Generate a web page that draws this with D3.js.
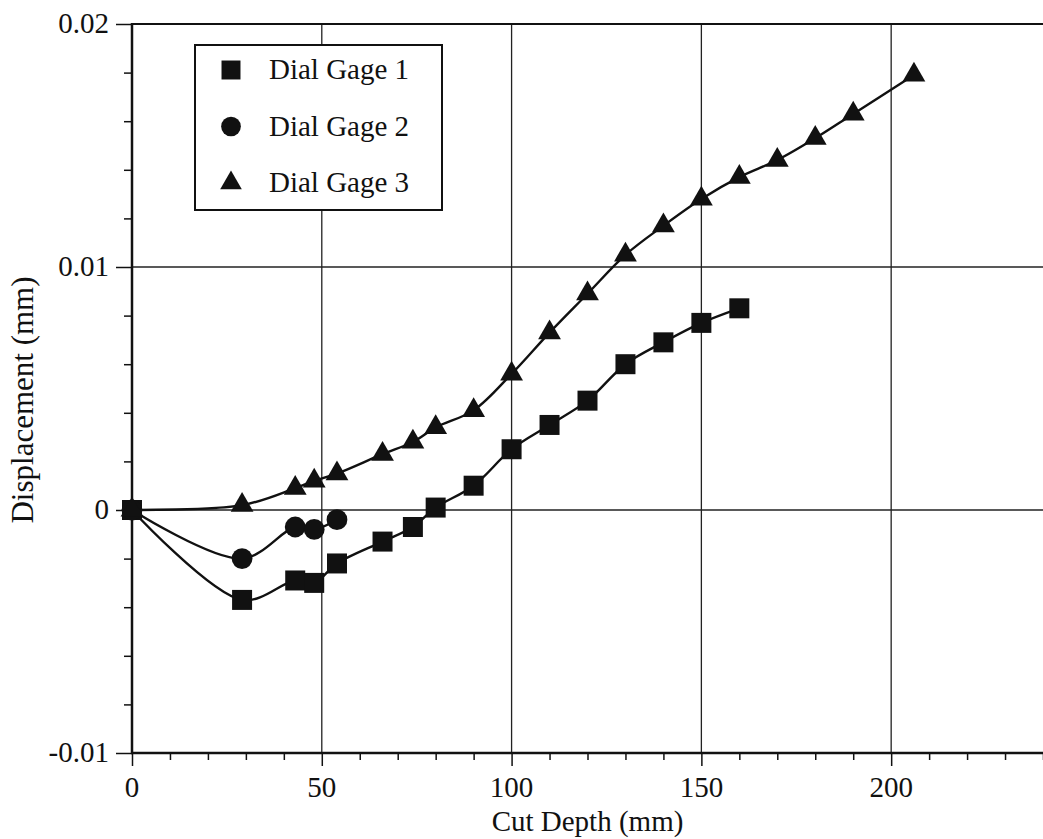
<!DOCTYPE html>
<html><head><meta charset="utf-8">
<script src="https://cdn.jsdelivr.net/npm/d3@7"></script>
<style>body{margin:0;background:#fff}svg{display:block}text{font-family:"Liberation Serif","Times New Roman",serif;fill:#111}</style>
</head><body><svg id="c" width="1043" height="839"></svg>
<script>
const xTicks = [0, 50, 100, 150, 200];
const yTicks = [-0.01, 0, 0.01, 0.02];
const yTickLabels = ["-0.01", "0", "0.01", "0.02"];
const seriesNames = ["Dial Gage 1", "Dial Gage 2", "Dial Gage 3"];
const gage1X = [0, 29, 43, 48, 54, 66, 74, 80, 90, 100, 110, 120, 130, 140, 150, 160];
const gage1Y = [0, -0.0037, -0.0029, -0.0030, -0.0022, -0.0013, -0.0007, 0.0001, 0.0010, 0.0025, 0.0035, 0.0045, 0.0060, 0.0069, 0.0077, 0.0083];
const gage2X = [0, 29, 43, 48, 54];
const gage2Y = [0, -0.0020, -0.0007, -0.0008, -0.0004];
const gage3X = [0, 29, 43, 48, 54, 66, 74, 80, 90, 100, 110, 120, 130, 140, 150, 160, 170, 180, 190, 206];
const gage3Y = [0, 0.0002, 0.0009, 0.0012, 0.0015, 0.0023, 0.0028, 0.0034, 0.0041, 0.0056, 0.0073, 0.0089, 0.0105, 0.0117, 0.0128, 0.0137, 0.0144, 0.0153, 0.0163, 0.0179];

const svg = d3.select("#c");
const x = d3.scaleLinear().domain([0, 240]).range([132, 1043]);
const y = d3.scaleLinear().domain([-0.01, 0.02]).range([753, 24]);
const FS = 29;

// grid
const g = svg.append("g");
g.selectAll("line.vg").data([50, 100, 150, 200]).join("line")
  .attr("x1", d => x(d)).attr("x2", d => x(d)).attr("y1", y(0.02)).attr("y2", y(-0.01))
  .attr("stroke", "#222").attr("stroke-width", 1.3);
g.selectAll("line.hg").data([0, 0.01]).join("line")
  .attr("x1", x(0)).attr("x2", 1043).attr("y1", d => y(d)).attr("y2", d => y(d))
  .attr("stroke", "#222").attr("stroke-width", 1.5);
g.append("line").attr("x1", x(0)).attr("x2", 1043).attr("y1", y(0.02)).attr("y2", y(0.02)).attr("stroke", "#111").attr("stroke-width", 2.2);

// x axis
const xAxis = d3.axisBottom(x).tickValues(d3.range(0, 241, 10)).tickSize(7).tickFormat("");
const gx = svg.append("g").attr("transform", `translate(0,${y(-0.01)})`).call(xAxis);
gx.select(".domain").remove();
gx.selectAll("line").attr("stroke", "#111").attr("stroke-width", 1.5)
  .attr("y2", d => (d % 50 === 0 ? 13 : 7));
svg.append("line").attr("x1", x(0) - 1).attr("x2", 1043).attr("y1", y(-0.01)).attr("y2", y(-0.01)).attr("stroke", "#111").attr("stroke-width", 2.5);
svg.append("g").selectAll("text").data(xTicks).join("text")
  .attr("x", d => x(d)).attr("y", 797).attr("text-anchor", "middle").attr("font-size", FS).text(d => d);

// y axis
const yAxis = d3.axisLeft(y).tickValues(d3.range(-0.01, 0.0201, 0.002)).tickSize(8).tickFormat("");
const gy = svg.append("g").attr("transform", `translate(${x(0)},0)`).call(yAxis);
gy.select(".domain").remove();
gy.selectAll("line").attr("stroke", "#111").attr("stroke-width", 1.5)
  .attr("x2", d => (Math.abs(Math.round(d * 1000) % 10) === 0 ? -16 : -8));
svg.append("line").attr("x1", x(0)).attr("x2", x(0)).attr("y1", y(0.02) - 1).attr("y2", y(-0.01) + 1).attr("stroke", "#111").attr("stroke-width", 2.5);
svg.append("g").selectAll("text").data(yTicks).join("text")
  .attr("x", 109).attr("y", d => y(d) + 9).attr("text-anchor", "end").attr("font-size", FS)
  .text((d, i) => yTickLabels[i]);

// titles
svg.append("text").attr("x", (x(0) + 1043) / 2).attr("y", 831).attr("text-anchor", "middle").attr("font-size", FS).text("Cut Depth (mm)");
svg.append("text").attr("transform", `translate(33,400) rotate(-90)`).attr("text-anchor", "middle").attr("font-size", 31).text("Displacement (mm)");

// series
const series = [
  { name: seriesNames[0], xs: gage1X, ys: gage1Y, shape: d3.symbolSquare, size: 400 },
  { name: seriesNames[1], xs: gage2X, ys: gage2Y, shape: d3.symbolCircle, size: 340 },
  { name: seriesNames[2], xs: gage3X, ys: gage3Y, shape: d3.symbolTriangle, size: 225 }
];
const line = d3.line().x(d => x(d[0])).y(d => y(d[1])).curve(d3.curveCatmullRom.alpha(0.5));
series.forEach(s => {
  const pts = s.xs.map((v, i) => [v, s.ys[i]]);
  svg.append("path").attr("d", line(pts)).attr("fill", "none").attr("stroke", "#111").attr("stroke-width", 2.4);
  svg.append("g").selectAll("path").data(pts).join("path")
    .attr("d", d3.symbol().type(s.shape).size(s.size))
    .attr("transform", d => `translate(${x(d[0])},${y(d[1])})`).attr("fill", "#111");
});

// legend
const lg = svg.append("g");
lg.append("rect").attr("x", 195).attr("y", 45).attr("width", 247).attr("height", 165)
  .attr("fill", "#fff").attr("stroke", "#111").attr("stroke-width", 2);
series.forEach((s, i) => {
  const cy = 70 + i * 56.5;
  lg.append("path").attr("d", d3.symbol().type(s.shape).size(s.size * 0.9))
    .attr("transform", `translate(231,${cy})`).attr("fill", "#111");
  lg.append("text").attr("x", 269).attr("y", cy + 9).attr("font-size", FS).text(s.name);
});
</script></body></html>
